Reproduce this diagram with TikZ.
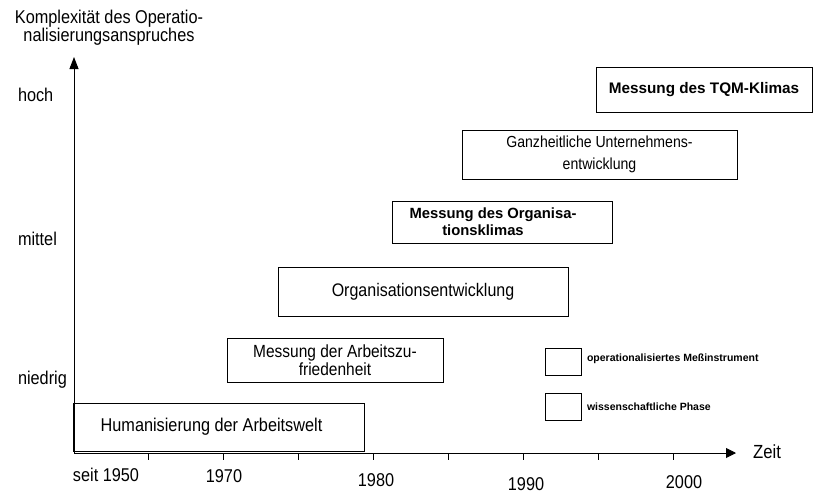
\documentclass[tikz,border=0pt]{standalone}
\usepackage{fontspec}
\setmainfont{Liberation Sans}
\newfontfamily\nar[FakeStretch=0.88]{Liberation Sans}
\usetikzlibrary{arrows.meta}
\begin{document}
\begin{tikzpicture}[x=1pt,y=-1pt,
  every node/.style={inner sep=0pt, outer sep=0pt},
  box/.style={draw, line width=0.9pt, align=center},
  lbl/.style={font=\nar\fontsize{18.5}{16}\selectfont},
  boldlbl/.style={font=\bfseries\fontsize{14.8}{17}\selectfont},
  legtxt/.style={font=\bfseries\fontsize{10.5}{12}\selectfont, anchor=west},
  axisline/.style={line width=0.9pt},
  tick/.style={line width=0.7pt}
]
\useasboundingbox (0,0) rectangle (816,493);

% axes
\coordinate (O) at (74,453);
\coordinate (ytip) at (74,57);
\coordinate (xtip) at (736,453);
\draw[axisline,-{Triangle[length=12pt,width=9pt]}] (O) -- (ytip);
\draw[axisline,-{Triangle[length=10pt,width=10pt]}] (O) -- (xtip);
\foreach \x in {148,223,298,373,448,523,598,673}
  \draw[tick] (\x,453) -- ++(0,7);

% axis titles
\node[lbl, align=center] (title) at (109,27.5)
  {Komplexität des Operatio-\\nalisierungsanspruches};
\node[lbl, anchor=west] (hoch) at (18,95) {hoch};
\node[lbl, anchor=west] (mittel) at (18,239) {mittel};
\node[lbl, anchor=west] (niedrig) at (18,380) {niedrig};
\node[font=\nar\fontsize{19}{20}\selectfont] (zeit) at (767,452) {Zeit};

% year labels
\node[lbl] (y1950) at (106,475) {seit 1950};
\node[lbl] (y1970) at (224,476) {1970};
\node[lbl] (y1980) at (376,480) {1980};
\node[lbl] (y1990) at (526,484) {1990};
\node[lbl] (y2000) at (684,482) {2000};

% phase boxes
\node[box, lbl, minimum width=291pt, minimum height=48pt] (hum) at (218.5,427)
  {\hspace*{-14pt}Humanisierung der Arbeitswelt};
\node[box, font=\nar\fontsize{17.6}{15}\selectfont, minimum width=216pt, minimum height=44pt] (arb) at (335,360)
  {Messung der Arbeitszu-\\friedenheit};
\node[box, font=\nar\fontsize{18.2}{18}\selectfont, minimum width=290pt, minimum height=49pt] (org) at (423,291.5)
  {Organisationsentwicklung};
\node[box, boldlbl, minimum width=220pt, minimum height=42pt] (orgk) at (502,222)
  {Messung des Organisa-\hspace*{18pt}\\tionsklimas\hspace*{38pt}};
\node[box, font=\nar\fontsize{16}{22}\selectfont, minimum width=275pt, minimum height=49pt] (ganz) at (599.5,154.5)
  {Ganzheitliche Unternehmens-\\entwicklung};
\node[box, font=\bfseries\fontsize{15.3}{17}\selectfont, minimum width=216pt, minimum height=45pt] (tqm) at (704,89.5)
  {Messung des TQM-Klimas};

% legend
\node[box, minimum width=36pt, minimum height=27pt] (legA) at (563,361.5) {};
\node[legtxt] (legAt) at (587,359) {operationalisiertes Meßinstrument};
\node[box, minimum width=36pt, minimum height=27pt] (legB) at (563,406.5) {};
\node[legtxt] (legBt) at (587,407) {wissenschaftliche Phase};
\end{tikzpicture}
\end{document}
